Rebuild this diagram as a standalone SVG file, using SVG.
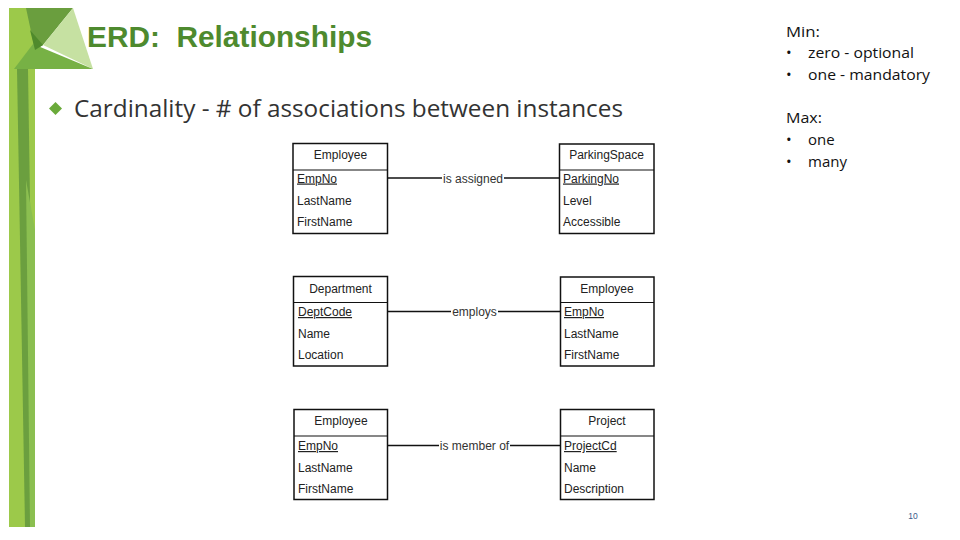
<svg xmlns="http://www.w3.org/2000/svg" width="960" height="540" viewBox="0 0 960 540">
<style>
.box{fill:#fff;stroke:#111;stroke-width:1.5}
.div{stroke:#111;stroke-width:1.2}
.hd{font-family:"Liberation Sans",Arial,sans-serif;font-size:12px;fill:#222;text-anchor:middle}
.at{font-family:"Liberation Sans",Arial,sans-serif;font-size:12px;fill:#222}
.pk{text-decoration:underline}
.lbl{font-family:"Liberation Sans",Arial,sans-serif;font-size:12px;fill:#333;text-anchor:middle}
.conn{stroke:#111;stroke-width:1.3;fill:none}
.side{font-family:"Open Sans","Liberation Sans",sans-serif;font-size:15px;fill:#111}
</style>
<rect width="960" height="540" fill="#fff"/>
<g id="decoration">
<rect x="9" y="69" width="26" height="458" fill="#9cc94a"/>
<polygon points="17,69 28,69 35,527 25,527" fill="#6b9f3f"/>
<polygon points="26,180 35,230 35,527 30,527" fill="#8bbf50"/>
<polygon points="9,8 30,8 42,69 9,69" fill="#9cc94a"/>
<polygon points="26,8 73,8 43,45 35,50" fill="#6a9e3e"/>
<polygon points="43,45 73,8 93,69" fill="#c6e1a2"/>
<polygon points="33,44 93,69 14,69" fill="#77b145"/>
<polygon points="30,30 43,45 35,50" fill="#4f8a2c"/>
</g>
<text x="87" y="47" font-family="'Liberation Sans',Arial,sans-serif" font-weight="bold" font-size="29" fill="#4e8a2e" textLength="285" lengthAdjust="spacingAndGlyphs" xml:space="preserve">ERD:  Relationships</text>
<polygon points="55.5,102 62,108.5 55.5,115 49,108.5" fill="#6aaa3a"/>
<text x="74" y="117" font-family="'Open Sans','Liberation Sans',sans-serif" font-size="23" fill="#333" textLength="549" lengthAdjust="spacingAndGlyphs">Cardinality - # of associations between instances</text>
<g id="minmax" class="side">
<text x="786" y="37" textLength="34" lengthAdjust="spacingAndGlyphs">Min:</text>
<text x="786" y="58">•</text><text x="808" y="58" textLength="106" lengthAdjust="spacingAndGlyphs">zero - optional</text>
<text x="786" y="80">•</text><text x="808" y="80" textLength="122" lengthAdjust="spacingAndGlyphs">one - mandatory</text>
<text x="786" y="123" textLength="36" lengthAdjust="spacingAndGlyphs">Max:</text>
<text x="786" y="145">•</text><text x="808" y="145">one</text>
<text x="786" y="167">•</text><text x="808" y="167">many</text>
</g>
<g id="connectors">
<line class="conn" x1="388" y1="178" x2="559.5" y2="178"/>
<line class="conn" x1="388" y1="311.5" x2="560.5" y2="311.5"/>
<line class="conn" x1="388" y1="445.5" x2="560.5" y2="445.5"/>
<rect x="442" y="170" width="62" height="15" fill="#fff"/>
<rect x="451" y="304" width="47" height="15" fill="#fff"/>
<rect x="439" y="438" width="71" height="15" fill="#fff"/>
<text class="lbl" x="473" y="182.5">is assigned</text>
<text class="lbl" x="474.5" y="316">employs</text>
<text class="lbl" x="474.5" y="450">is member of</text>
</g>
<g id="employee1">
<rect class="box" x="293" y="143.5" width="94.5" height="90"/>
<line class="div" x1="293" y1="170" x2="387.5" y2="170"/>
<text class="hd" x="340.5" y="158.5">Employee</text>
<text class="at pk" x="297" y="182.5">EmpNo</text>
<text class="at" x="297" y="204.5">LastName</text>
<text class="at" x="297" y="225.5">FirstName</text>
</g>
<g id="parkingspace">
<rect class="box" x="559.5" y="144" width="94.5" height="89.5"/>
<line class="div" x1="559.5" y1="170" x2="654" y2="170"/>
<text class="hd" x="606.5" y="158.5">ParkingSpace</text>
<text class="at pk" x="563" y="182.5">ParkingNo</text>
<text class="at" x="563" y="204.5">Level</text>
<text class="at" x="563" y="225.5">Accessible</text>
</g>
<g id="department">
<rect class="box" x="293.5" y="276.5" width="94" height="89.5"/>
<line class="div" x1="293.5" y1="302.5" x2="387.5" y2="302.5"/>
<text class="hd" x="340.5" y="292.5">Department</text>
<text class="at pk" x="298" y="316">DeptCode</text>
<text class="at" x="298" y="337.5">Name</text>
<text class="at" x="298" y="359">Location</text>
</g>
<g id="employee2">
<rect class="box" x="560.5" y="277" width="93.5" height="89"/>
<line class="div" x1="560.5" y1="302.5" x2="654" y2="302.5"/>
<text class="hd" x="607" y="292.5">Employee</text>
<text class="at pk" x="564" y="316">EmpNo</text>
<text class="at" x="564" y="337.5">LastName</text>
<text class="at" x="564" y="359">FirstName</text>
</g>
<g id="employee3">
<rect class="box" x="294" y="409.5" width="93.5" height="90"/>
<line class="div" x1="294" y1="436" x2="387.5" y2="436"/>
<text class="hd" x="341" y="425">Employee</text>
<text class="at pk" x="298" y="450">EmpNo</text>
<text class="at" x="298" y="472">LastName</text>
<text class="at" x="298" y="492.5">FirstName</text>
</g>
<g id="project">
<rect class="box" x="560.5" y="409.5" width="93.5" height="90"/>
<line class="div" x1="560.5" y1="436" x2="654" y2="436"/>
<text class="hd" x="607" y="425">Project</text>
<text class="at pk" x="564" y="450">ProjectCd</text>
<text class="at" x="564" y="472">Name</text>
<text class="at" x="564" y="492.5">Description</text>
</g>
<text x="913" y="519" font-family="'Liberation Sans',Arial,sans-serif" font-size="8.5" fill="#3b5a8a" text-anchor="middle">10</text>
</svg>
